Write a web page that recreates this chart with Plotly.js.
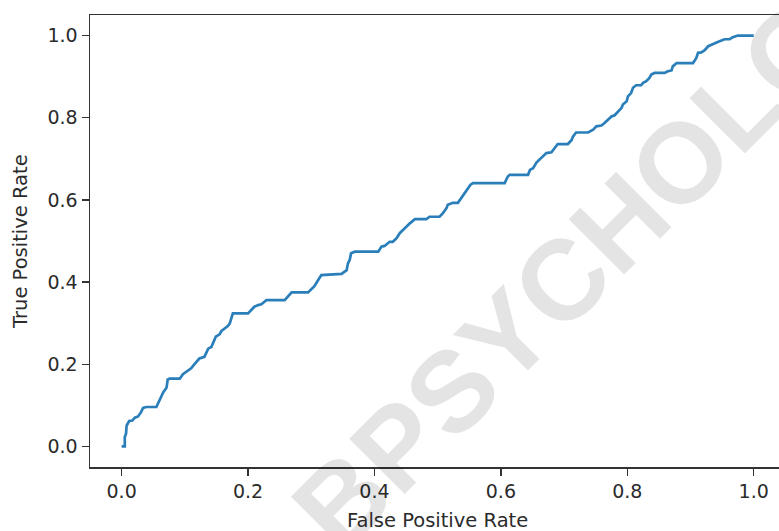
<!DOCTYPE html>
<html>
<head>
<meta charset="utf-8">
<script src="https://cdn.plot.ly/plotly-3.0.1.min.js"></script>
<style>html,body{margin:0;padding:0;background:#fff;}#chart{width:779px;height:531px;}</style>
</head>
<body>
<div id="chart"></div>
<script>
// ROC curve
const fpr = [0.000, 0.005, 0.005, 0.007, 0.008, 0.012, 0.017, 0.021, 0.026, 0.031, 0.034, 0.039, 0.055, 0.059, 0.063, 0.066, 0.071, 0.073, 0.076, 0.092, 0.097, 0.105, 0.110, 0.114, 0.119, 0.123, 0.131, 0.134, 0.137, 0.142, 0.146, 0.149, 0.155, 0.158, 0.163, 0.168, 0.171, 0.174, 0.176,
  0.200, 0.205, 0.210, 0.216, 0.221, 0.226, 0.229, 0.258, 0.263, 0.269, 0.295, 0.300, 0.305, 0.311, 0.316, 0.348, 0.353, 0.356, 0.358, 0.361, 0.363, 0.369,
  0.406, 0.411, 0.416, 0.421, 0.424, 0.429, 0.435, 0.440, 0.445, 0.450, 0.456, 0.464, 0.482, 0.487, 0.503, 0.508, 0.514, 0.516, 0.524, 0.532, 0.537, 0.543, 0.548, 0.552, 0.556,
  0.606, 0.611, 0.614, 0.643, 0.646, 0.651, 0.656, 0.661, 0.667, 0.672, 0.680, 0.685, 0.690, 0.706, 0.712, 0.714, 0.719, 0.738, 0.746, 0.751, 0.759, 0.764, 0.770, 0.775, 0.780, 0.785, 0.791, 0.793, 0.799, 0.801, 0.806, 0.809, 0.814,
  0.822, 0.825, 0.830, 0.835, 0.838, 0.843, 0.859, 0.864, 0.870, 0.872, 0.878, 0.904, 0.909, 0.912, 0.917, 0.922, 0.928, 0.933, 0.938, 0.944, 0.949, 0.954, 0.962, 0.967, 0.975, 1.000];
const tpr = [0.000, 0.000, 0.023, 0.031, 0.051, 0.062, 0.063, 0.070, 0.073, 0.084, 0.094, 0.096, 0.096, 0.108, 0.120, 0.132, 0.143, 0.163, 0.165, 0.165, 0.176, 0.185, 0.190, 0.198, 0.206, 0.214, 0.218, 0.230, 0.238, 0.242, 0.254, 0.267, 0.273, 0.281, 0.287, 0.293, 0.299, 0.318, 0.324,
  0.324, 0.332, 0.340, 0.344, 0.346, 0.352, 0.356, 0.356, 0.366, 0.375, 0.375, 0.382, 0.390, 0.405, 0.417, 0.420, 0.425, 0.429, 0.445, 0.455, 0.470, 0.474,
  0.474, 0.486, 0.488, 0.493, 0.498, 0.498, 0.507, 0.519, 0.527, 0.533, 0.543, 0.553, 0.553, 0.559, 0.559, 0.567, 0.580, 0.588, 0.593, 0.593, 0.604, 0.616, 0.626, 0.637, 0.641,
  0.641, 0.657, 0.661, 0.661, 0.673, 0.677, 0.690, 0.698, 0.706, 0.714, 0.716, 0.726, 0.736, 0.736, 0.746, 0.754, 0.764, 0.764, 0.771, 0.779, 0.781, 0.787, 0.795, 0.803, 0.806, 0.815, 0.824, 0.832, 0.840, 0.852, 0.860, 0.873, 0.879,
  0.879, 0.885, 0.889, 0.897, 0.905, 0.909, 0.909, 0.913, 0.915, 0.925, 0.933, 0.933, 0.945, 0.958, 0.959, 0.964, 0.974, 0.978, 0.980, 0.985, 0.988, 0.991, 0.991, 0.996, 1.000, 1.000];
const xTicks = [0.0, 0.2, 0.4, 0.6, 0.8, 1.0];
const yTicks = [0.0, 0.2, 0.4, 0.6, 0.8, 1.0];
const xLabel = 'False Positive Rate';
const yLabel = 'True Positive Rate';
const watermark = 'BPSYCHOLOGY';

const txt = '#2b2b2b';
const fontFam = 'DejaVu Sans, sans-serif';

const trace = {
  x: fpr, y: tpr, type: 'scatter', mode: 'lines',
  line: {color: '#2a7fba', width: 2.7, shape: 'linear'},
  hoverinfo: 'skip'
};

const axisCommon = {
  showgrid: false, zeroline: false, showline: true, linecolor: '#333', linewidth: 1.5,
  ticks: 'outside', ticklen: 7, tickwidth: 1.5, tickcolor: '#333',
  tickfont: {family: fontFam, size: 19, color: txt}
};

const layout = {
  width: 779, height: 531,
  margin: {l: 90, r: 0, t: 15, b: 64, pad: 0},
  paper_bgcolor: '#fff', plot_bgcolor: '#fff',
  showlegend: false,
  xaxis: Object.assign({}, axisCommon, {range: [-0.05, 1.040], tickvals: xTicks, ticktext: xTicks.map(v => v.toFixed(1)), mirror: true}),
  yaxis: Object.assign({}, axisCommon, {range: [-0.05, 1.05], tickvals: yTicks, ticktext: yTicks.map(v => v.toFixed(1)), mirror: false}),
  annotations: [
    {text: watermark, xref: 'paper', yref: 'paper', x: 0.778, y: 0.555, xanchor: 'center', yanchor: 'middle',
     textangle: -45, showarrow: false, font: {family: 'Liberation Sans, Arial, sans-serif', size: 114, color: 'rgba(0,0,0,0.105)', weight: 'bold'}},
    {text: xLabel, xref: 'x', yref: 'paper', x: 0.5, y: 0, xanchor: 'center', yanchor: 'middle', yshift: -53.5,
     showarrow: false, font: {family: fontFam, size: 19.5, color: txt}},
    {text: yLabel, xref: 'paper', yref: 'paper', x: -0.1016, y: 0.5, xanchor: 'center', yanchor: 'middle', textangle: -90,
     showarrow: false, font: {family: fontFam, size: 19.5, color: txt}}
  ]
};

Plotly.newPlot('chart', [trace], layout, {displayModeBar: false, staticPlot: true});
</script>
</body>
</html>
